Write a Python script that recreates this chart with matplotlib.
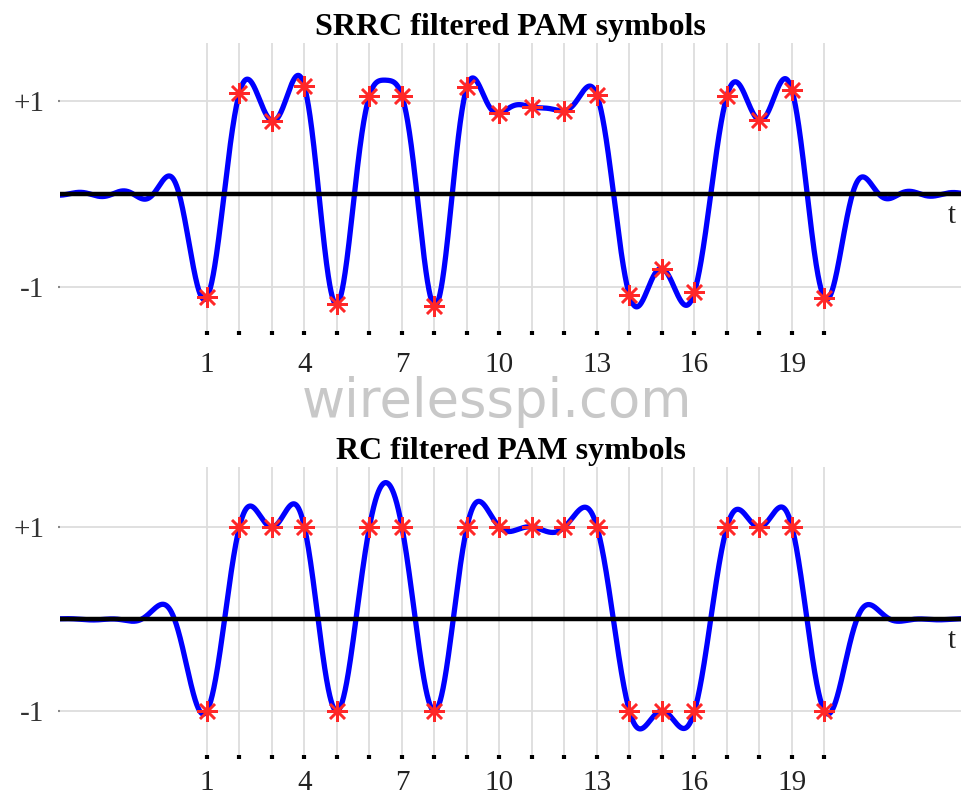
import numpy as np
import matplotlib
matplotlib.use('Agg')
import matplotlib.pyplot as plt

# PAM symbols (one per symbol time 1..20)
symbol_times = list(range(1, 21))
symbols = [-1, 1, 1, 1, -1, 1, 1, -1, 1, 1, 1, 1, 1, -1, -1, -1, 1, 1, 1, -1]
label_ticks = [1, 4, 7, 10, 13, 16, 19]
rolloff = 0.5
gains = [1.07, 1.0]   # SRRC output looks a bit larger than unit amplitude
titles = ['SRRC filtered PAM symbols', 'RC filtered PAM symbols']


def srrc(t, b):
    t = np.asarray(t, dtype=float)
    out = np.empty_like(t)
    at0 = np.isclose(t, 0)
    sing = np.isclose(np.abs(t), 1 / (4 * b))
    rest = ~(at0 | sing)
    tr = t[rest]
    out[rest] = (np.sin(np.pi * tr * (1 - b)) + 4 * b * tr * np.cos(np.pi * tr * (1 + b))) / \
                (np.pi * tr * (1 - (4 * b * tr) ** 2))
    out[at0] = 1 - b + 4 * b / np.pi
    out[sing] = b / np.sqrt(2) * ((1 + 2 / np.pi) * np.sin(np.pi / (4 * b)) +
                                  (1 - 2 / np.pi) * np.cos(np.pi / (4 * b)))
    return out / (1 - b + 4 * b / np.pi)


def rc(t, b):
    t = np.asarray(t, dtype=float)
    out = np.empty_like(t)
    sing = np.isclose(np.abs(t), 1 / (2 * b))
    rest = ~sing
    tr = t[rest]
    out[rest] = np.sinc(tr) * np.cos(np.pi * b * tr) / (1 - (2 * b * tr) ** 2)
    out[sing] = np.pi / 4 * np.sinc(1 / (2 * b))
    return out


def shaped(t, pulse, gain):
    y = np.zeros_like(t, dtype=float)
    for k, a in zip(symbol_times, symbols):
        y += a * pulse(t - k, rolloff)
    return gain * y


xlim = (-3.52, 24.2)
t = np.linspace(xlim[0], xlim[1], 3000)
ts = np.array(symbol_times, dtype=float)

fig = plt.figure(figsize=(9.61, 7.99), dpi=100)
W, H = 961, 799
boxes = [(43, 331, (-1.48, 1.63), 12), (467, 755, (-1.478, 1.652), 8)]
pulses = [srrc, rc]

for (top, bot, ylim, xpad), pulse, gain, title in zip(boxes, pulses, gains, titles):
    ax = fig.add_axes([60 / W, 1 - bot / H, 901 / W, (bot - top) / H])
    y = shaped(t, pulse, gain)
    ys = shaped(ts, pulse, gain)
    ax.plot(t, y, color='#0000ff', lw=3.8, zorder=3, solid_capstyle='round')
    ax.axhline(0, color='black', lw=3.2, zorder=4)
    ax.plot(ts, ys, linestyle='none', marker=(8, 2, 0), ms=15, mew=1.8,
            color='#ff2828', zorder=5)
    ax.set_xlim(*xlim)
    ax.set_ylim(*ylim)
    for s in ax.spines.values():
        s.set_visible(False)
    ax.set_xticks(symbol_times)
    ax.set_xticklabels([str(v) if v in label_ticks else '' for v in symbol_times],
                       family='Liberation Serif', fontsize=21, color='#222222')
    ax.set_yticks([-1, 1])
    ax.set_yticklabels(['-1', '+1'], family='Liberation Serif', fontsize=21,
                       color='#333333')
    ax.tick_params(axis='x', length=3, width=3, color='black', pad=xpad)
    ax.tick_params(axis='y', length=1.5, width=1.5, color='#888888', pad=10)
    ax.grid(True, color='#dddddd', lw=1.3)
    ax.set_axisbelow(True)
    ax.set_title(title, family='Liberation Serif', fontweight='bold',
                 fontsize=23, pad=6)
    ax.text(23.8, -0.1, 't', family='Liberation Serif', fontsize=21,
            va='top', ha='left', clip_on=False, color='#222222')

fig.text(497 / W, 1 - 417 / H, 'wirelesspi.com', family='DejaVu Sans',
         fontsize=38, color='#c8c8c8', ha='center', va='baseline', zorder=0)

fig.savefig('out.png', dpi=100)
